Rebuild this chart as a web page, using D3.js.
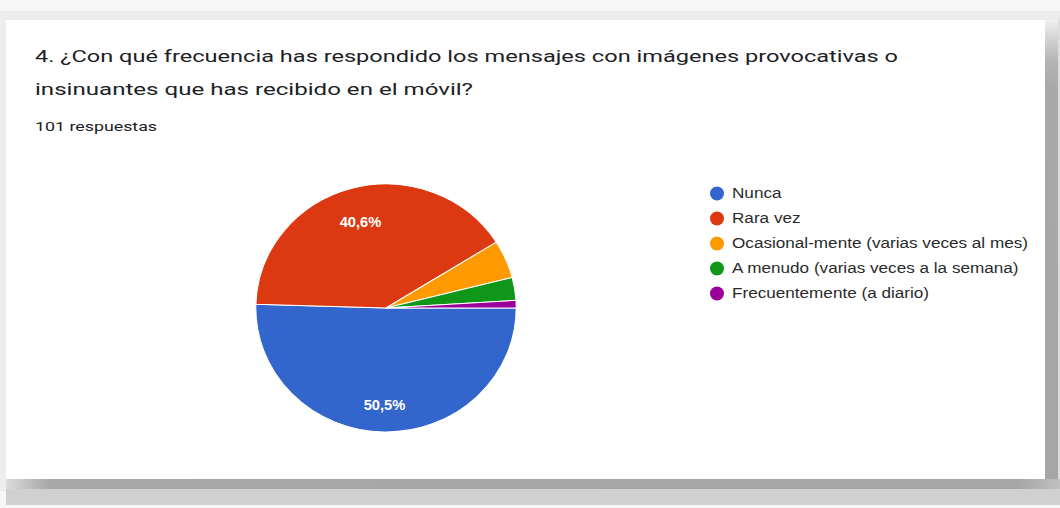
<!DOCTYPE html>
<html>
<head>
<meta charset="utf-8">
<script src="https://cdn.jsdelivr.net/npm/d3@7"></script>
<style>
html,body{margin:0;padding:0;background:#fafafa;}
svg{display:block;}
</style>
</head>
<body>
<svg id="chart" width="1060" height="508"></svg>
<script>
const titleLines = [
  "4. ¿Con qué frecuencia has respondido los mensajes con imágenes provocativas o",
  "insinuantes que has recibido en el móvil?"
];
const subtitle = "101 respuestas";
const categories = [
  "Nunca",
  "Rara vez",
  "Ocasional-mente (varias veces al mes)",
  "A menudo (varias veces a la semana)",
  "Frecuentemente (a diario)"
];
const counts = [51, 41, 5, 3, 1];
const colors = ["#3366cc", "#dc3912", "#ff9900", "#109618", "#990099"];

const svg = d3.select("#chart");
const defs = svg.append("defs");

// frame / shadow
const gR = defs.append("linearGradient").attr("id","gR").attr("x1",0).attr("y1",0).attr("x2",0).attr("y2",1);
gR.append("stop").attr("offset","0%").attr("stop-color","#f0f0f0");
gR.append("stop").attr("offset","3%").attr("stop-color","#dadada");
gR.append("stop").attr("offset","9%").attr("stop-color","#b4b4b4");
gR.append("stop").attr("offset","15%").attr("stop-color","#a8a8a8");
gR.append("stop").attr("offset","100%").attr("stop-color","#a6a6a6");
const gB = defs.append("linearGradient").attr("id","gB").attr("x1",0).attr("y1",0).attr("x2",1).attr("y2",0);
gB.append("stop").attr("offset","0%").attr("stop-color","#dcdcdc");
gB.append("stop").attr("offset","4%").attr("stop-color","#a8a8a8");
gB.append("stop").attr("offset","96%").attr("stop-color","#a6a6a6");
gB.append("stop").attr("offset","100%").attr("stop-color","#c0c0c0");

svg.append("rect").attr("x",0).attr("y",0).attr("width",1060).attr("height",508).attr("fill","#f6f6f6");
svg.append("rect").attr("x",0).attr("y",11).attr("width",1060).attr("height",10).attr("fill","#ececec");
svg.append("rect").attr("x",0).attr("y",11).attr("width",6).attr("height",480).attr("fill","#eeeeee");
svg.append("rect").attr("x",1045).attr("y",20).attr("width",13).attr("height",460).attr("fill","url(#gR)");
svg.append("rect").attr("x",1058).attr("y",20).attr("width",2).attr("height",470).attr("fill","#dddddd");
svg.append("rect").attr("x",6).attr("y",479).attr("width",1054).attr("height",10).attr("fill","url(#gB)");
svg.append("rect").attr("x",6).attr("y",489).attr("width",1054).attr("height",16).attr("fill","#d0d0d0");
svg.append("rect").attr("x",6).attr("y",20).attr("width",1039).attr("height",459).attr("fill","#ffffff");

// titles
const title = svg.append("g").attr("font-family","Roboto, 'Noto Sans', sans-serif").attr("fill","#202124");
const tTargets = [[35, 62, 863], [35, 95, 438]];
titleLines.forEach((s,i)=>{
  title.append("text").attr("x",tTargets[i][0]).attr("y",tTargets[i][1])
    .attr("font-size",17).text(s)
    .attr("textLength", tTargets[i][2]).attr("lengthAdjust","spacingAndGlyphs");
});
svg.append("text").attr("x",35).attr("y",131).attr("font-family","Roboto, sans-serif")
  .attr("font-size",13.5).attr("fill","#202124").attr("textLength",122).attr("lengthAdjust","spacingAndGlyphs").text(subtitle);

// pie
const total = d3.sum(counts);
const cx = 386, cy = 308, r = 124, sx = 1.05;
const pie = d3.pie().sort(null).startAngle(Math.PI/2).endAngle(Math.PI/2 + 2*Math.PI);
const arcs = pie(counts);
const arc = d3.arc().innerRadius(0).outerRadius(r);
const labelArc = d3.arc().innerRadius(r*0.75).outerRadius(r*0.75);
const pg = svg.append("g").attr("transform",`translate(${cx},${cy}) scale(${sx},1)`);
pg.selectAll("path").data(arcs).join("path")
  .attr("d",arc).attr("fill",(d,i)=>colors[i]).attr("stroke","#ffffff").attr("stroke-width",1);
const fmt = v => (v*100).toFixed(1).replace(".",",") + "%";
pg.selectAll("text").data(arcs.filter(d=>d.data/total>0.1)).join("text")
  .attr("transform",d=>{ const c = labelArc.centroid(d); return `translate(${c[0]},${c[1]+4})`; })
  .attr("text-anchor","middle").attr("dy","0.35em")
  .attr("font-family","Arial, 'Liberation Sans', sans-serif").attr("font-size",14).attr("font-weight","bold")
  .attr("fill","#ffffff").text(d=>fmt(d.data/total));

// legend
const ly = d3.scaleBand().domain(categories).range([181, 306]);
const lg = svg.append("g");
const items = lg.selectAll("g").data(categories).join("g")
  .attr("transform",d=>`translate(717,${ly(d)+ly.bandwidth()/2})`);
items.append("circle").attr("r",7).attr("fill",(d,i)=>colors[i]);
const lt = items.append("text").attr("x",15).attr("dy","0.35em")
  .attr("font-family","Arial, 'Liberation Sans', sans-serif").attr("font-size",14)
  .attr("fill","#2a2a2a").text(d=>d);
const widths = lt.nodes().map(n=>n.getComputedTextLength());
const k = 296 / d3.max(widths);
lt.each(function(d,i){ d3.select(this).attr("textLength", widths[i]*k).attr("lengthAdjust","spacingAndGlyphs"); });
</script>
</body>
</html>
